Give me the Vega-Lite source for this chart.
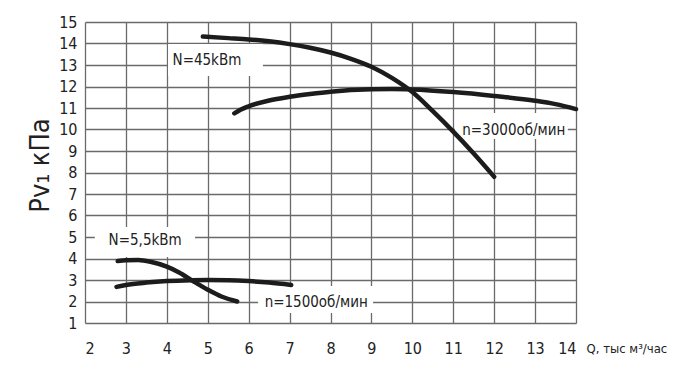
{
  "$schema": "https://vega.github.io/schema/vega-lite/v6.json",
  "width": 491,
  "height": 301,
  "autosize": {"type": "none"},
  "padding": {"left": 85, "top": 22, "right": 107, "bottom": 51},
  "background": "white",
  "config": {
    "view": {"stroke": null},
    "font": "DejaVu Sans Condensed, Liberation Sans Narrow, sans-serif",
    "axis": {
      "labelFont": "DejaVu Sans Condensed, Liberation Sans Narrow, sans-serif",
      "titleFont": "DejaVu Sans Condensed, Liberation Sans Narrow, sans-serif",
      "labelColor": "#222",
      "titleColor": "#222",
      "gridColor": "#6a6a6a",
      "gridWidth": 1.3,
      "gridOpacity": 1,
      "domain": false,
      "ticks": false,
      "labelOverlap": false,
      "labelBound": false,
      "titleFontWeight": "normal"
    }
  },
  "datasets": {
    "curves": [
      {"series": "N45", "q": 4.88, "p": 14.32},
      {"series": "N45", "q": 5.5, "p": 14.25},
      {"series": "N45", "q": 6.0, "p": 14.19},
      {"series": "N45", "q": 6.5, "p": 14.1},
      {"series": "N45", "q": 7.0, "p": 13.97},
      {"series": "N45", "q": 7.5, "p": 13.8},
      {"series": "N45", "q": 8.0, "p": 13.58},
      {"series": "N45", "q": 8.5, "p": 13.29},
      {"series": "N45", "q": 9.0, "p": 12.92},
      {"series": "N45", "q": 9.5, "p": 12.4},
      {"series": "N45", "q": 10.0, "p": 11.74},
      {"series": "N45", "q": 10.5, "p": 10.85},
      {"series": "N45", "q": 11.0, "p": 9.9},
      {"series": "N45", "q": 11.5, "p": 8.88},
      {"series": "N45", "q": 12.0, "p": 7.8},
      {"series": "n3000", "q": 5.65, "p": 10.75},
      {"series": "n3000", "q": 5.8, "p": 10.92},
      {"series": "n3000", "q": 6.0, "p": 11.08},
      {"series": "n3000", "q": 6.5, "p": 11.35},
      {"series": "n3000", "q": 7.0, "p": 11.52},
      {"series": "n3000", "q": 7.5, "p": 11.65},
      {"series": "n3000", "q": 8.0, "p": 11.76},
      {"series": "n3000", "q": 9.0, "p": 11.87},
      {"series": "n3000", "q": 9.5, "p": 11.88},
      {"series": "n3000", "q": 10.0, "p": 11.86},
      {"series": "n3000", "q": 11.0, "p": 11.74},
      {"series": "n3000", "q": 12.0, "p": 11.56},
      {"series": "n3000", "q": 13.0, "p": 11.34},
      {"series": "n3000", "q": 13.5, "p": 11.18},
      {"series": "n3000", "q": 14.0, "p": 10.95},
      {"series": "N5", "q": 2.8, "p": 3.88},
      {"series": "N5", "q": 3.0, "p": 3.92},
      {"series": "N5", "q": 3.3, "p": 3.93},
      {"series": "N5", "q": 3.6, "p": 3.85},
      {"series": "N5", "q": 4.0, "p": 3.62},
      {"series": "N5", "q": 4.3, "p": 3.35},
      {"series": "N5", "q": 4.64, "p": 2.95},
      {"series": "N5", "q": 5.0, "p": 2.55},
      {"series": "N5", "q": 5.35, "p": 2.22},
      {"series": "N5", "q": 5.72, "p": 2.0},
      {"series": "n1500", "q": 2.77, "p": 2.68},
      {"series": "n1500", "q": 3.0, "p": 2.77},
      {"series": "n1500", "q": 3.5, "p": 2.88},
      {"series": "n1500", "q": 4.0, "p": 2.95},
      {"series": "n1500", "q": 4.6, "p": 2.99},
      {"series": "n1500", "q": 5.0, "p": 3.0},
      {"series": "n1500", "q": 5.5, "p": 2.99},
      {"series": "n1500", "q": 6.0, "p": 2.95},
      {"series": "n1500", "q": 6.5, "p": 2.88},
      {"series": "n1500", "q": 7.04, "p": 2.77}
    ],
    "labels": [
      {"label": "N=45kBm", "q": 4.98, "p": 13.22, "q1": 4.03, "q2": 6.35, "p1": 13.98, "p2": 12.49},
      {"label": "N=5,5kBm", "q": 3.47, "p": 4.86, "q1": 2.24, "q2": 4.69, "p1": 5.47, "p2": 4.07},
      {"label": "n=1500об/мин", "q": 7.65, "p": 1.98, "q1": 6.23, "q2": 9.04, "p1": 2.72, "p2": 1.47},
      {"label": "n=3000об/мин", "q": 12.48, "p": 10.0, "q1": 11.04, "q2": 13.8, "p1": 10.77, "p2": 9.56}
    ]
  },
  "encoding": {
    "x": {
      "field": "q", "type": "quantitative",
      "scale": {"domain": [2, 14], "nice": false, "zero": false},
      "axis": {
        "values": [2, 3, 4, 5, 6, 7, 8, 9, 10, 11, 12, 13, 14],
        "labelFlush": true,
        "labelFontSize": 16,
        "labelBaseline": "middle",
        "labelPadding": 25,
        "title": "Q, тыс м³/час",
        "titleFontSize": 13,
        "titleX": 501,
        "titleY": 25,
        "titleAlign": "left",
        "titleBaseline": "middle",
        "titleAngle": 0
      }
    },
    "y": {
      "field": "p", "type": "quantitative",
      "scale": {"domain": [1, 15], "nice": false, "zero": false},
      "axis": {
        "values": [1, 2, 3, 4, 5, 6, 7, 8, 9, 10, 11, 12, 13, 14, 15],
        "labelFlush": false,
        "labelFontSize": 16,
        "labelPadding": 8,
        "title": "Pv₁ кПа",
        "titleFontSize": 27,
        "titleX": -45,
        "titleY": 143,
        "titleAngle": -90,
        "titleAlign": "center",
        "titleBaseline": "middle"
      }
    }
  },
  "layer": [
    {
      "data": {"name": "labels"},
      "mark": {"type": "rect", "fill": "white", "stroke": null},
      "encoding": {
        "x": {"field": "q1", "type": "quantitative"},
        "x2": {"field": "q2"},
        "y": {"field": "p1", "type": "quantitative"},
        "y2": {"field": "p2"}
      }
    },
    {
      "data": {"name": "curves"},
      "mark": {"type": "line", "interpolate": "monotone", "color": "#1c1c1c", "strokeWidth": 4.5, "strokeCap": "round"},
      "encoding": {
        "detail": {"field": "series", "type": "nominal"}
      }
    },
    {
      "data": {"name": "labels"},
      "mark": {"type": "text", "fontSize": 15, "color": "#222", "baseline": "middle", "align": "center"},
      "encoding": {
        "text": {"field": "label", "type": "nominal"}
      }
    }
  ]
}
